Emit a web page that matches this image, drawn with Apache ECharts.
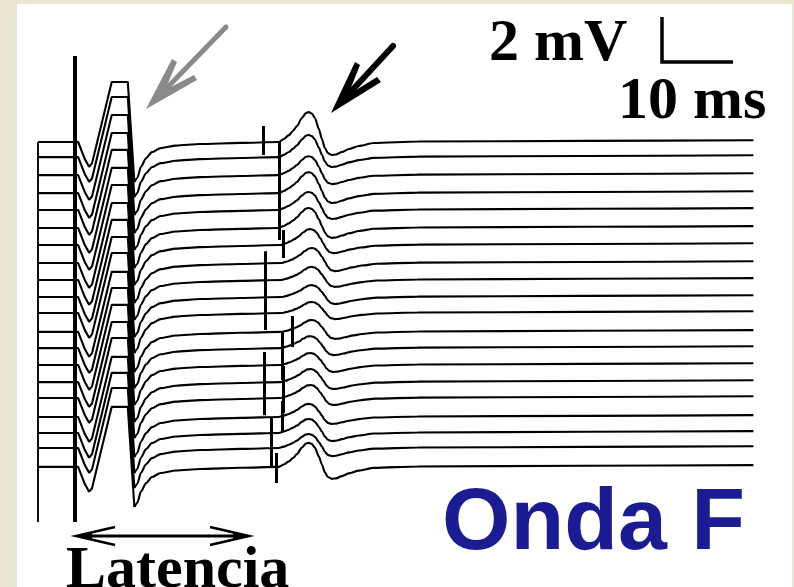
<!DOCTYPE html>
<html><head><meta charset="utf-8">
<script src="https://cdn.jsdelivr.net/npm/echarts@6/dist/echarts.min.js"></script>
<style>
html,body{margin:0;padding:0;background:#ebe4d3;width:794px;height:587px;overflow:hidden;}
#bg{position:absolute;left:17px;top:4px;width:775px;height:583px;background:#ffffff;}
#c{position:absolute;left:0;top:0;width:794px;height:587px;}
</style>
</head><body><div id="bg"></div><div id="c"></div>
<script>
// Baseline of each of the 20 stacked traces (mV offset)
const traceBase = [0, -0.67, -1.47, -2.27, -3.02, -3.82, -4.58, -5.38, -6.13, -6.89,
  -7.6, -8.44, -9.16, -9.91, -10.67, -11.38, -12.22, -12.93, -13.6, -14.44];

// M-wave (clipped) shared shape: time (ms) and amplitude (mV) relative to baseline
const mTime = [0, 5.1, 5.5, 6.4, 7.0, 7.4, 10.1, 12.3, 13.2];
const mAmp  = [0, 0, 0, -0.75, -1.1, -0.95, 2.67, 2.67, -1.78];

// Recovery after the M-wave trough
const recTime = [13.2, 13.6, 14.1, 14.8, 15.6, 16.8, 18.9, 22.2, 27.7];
const recAmp  = [-1.78, -1.6, -1.1, -0.72, -0.45, -0.27, -0.16, -0.09, -0.04];

// F-wave shape: time from onset (ms), positive lobe and negative lobe weights
const fTime = [0, 0.68, 1.37, 1.92, 2.47, 3.15, 3.7, 4.11, 4.52, 4.93, 5.48, 5.89, 6.3, 6.71, 7.26, 7.81, 8.63, 9.59, 10.96, 13.0];
const fUp   = [0, 0.1, 0.23, 0.37, 0.53, 0.8, 0.97, 1, 0.95, 0.8, 0.43, 0.1, 0, 0, 0, 0, 0, 0, 0, 0];
const fDown = [0, 0, 0, 0, 0, 0, 0, 0, 0, 0, 0, 0, -0.46, -0.85, -1, -0.96, -0.77, -0.54, -0.31, -0.08];

// Per-trace F-wave onset (ms), peak (mV) and trough depth (mV)
const fOnset = [33.0, 33.0, 33.0, 33.0, 33.0, 33.0, 33.2, 33.4, 33.4, 33.4,
  33.4, 33.4, 33.2, 33.2, 33.2, 33.2, 33.0, 33.0, 33.0, 33.0];
const fPeak = [1.33, 0.98, 0.84, 0.93, 0.8, 0.89, 0.71, 0.67, 0.58, 0.53,
  0.49, 0.53, 0.53, 0.53, 0.58, 0.58, 0.58, 0.62, 0.62, 1.07];
const fTrough = [0.58, 0.44, 0.4, 0.44, 0.4, 0.44, 0.36, 0.36, 0.31, 0.31,
  0.27, 0.31, 0.31, 0.31, 0.31, 0.31, 0.31, 0.36, 0.36, 0.53];

// Late baseline drift
const tailTime = [52, 75, 98];
const tailAmp  = [0.02, 0.05, 0.08];

// Latency markers: [trace, time ms, extent above (mV), extent below (mV)]
const ticks = [
  [0, 30.8, 0.71, 0.58],
  [1, 33.0, 0.67, 0.53], [2, 33.0, 0.67, 0.53], [3, 33.0, 0.67, 0.53], [4, 33.0, 0.67, 0.53], [5, 33.0, 0.67, 0.53],
  [6, 33.6, 0.67, 0.58],
  [7, 31.1, 0.53, 0.76], [8, 31.1, 0.53, 0.76], [9, 31.1, 0.53, 0.76], [10, 31.1, 0.53, 0.76],
  [11, 34.8, 0.71, 0.67],
  [12, 33.4, 0.71, 0.67], [13, 33.4, 0.71, 0.67], [14, 33.6, 0.71, 0.67], [15, 33.6, 0.71, 0.67], [16, 33.5, 0.71, 0.67],
  [13, 31.0, 0.58, 0.76], [14, 31.0, 0.58, 0.76], [15, 31.0, 0.58, 0.76],
  [17, 31.9, 0.67, 0.76], [18, 31.9, 0.67, 0.89],
  [19, 32.7, 0.62, 0.71]
];

// Stimulus artifact and trace start edge
const artifact = {time: 5.07, top: 3.82, bottom: -16.89};
const startEdge = {time: 0, top: 0, bottom: -16.89};

const series = [];
traceBase.forEach((b, i) => {
  series.push({
    type: 'line', data: mTime.map((t, k) => [t, b + mAmp[k]]),
    showSymbol: false, silent: true, smooth: false,
    lineStyle: {color: '#000', width: 2.1}
  });
  const rest = recTime.map((t, k) => [t, b + recAmp[k]])
    .concat(fTime.map((t, k) => [fOnset[i] + t, b + fPeak[i] * fUp[k] + fTrough[i] * fDown[k]]))
    .concat(tailTime.map((t, k) => [t, b + tailAmp[k]]));
  series.push({
    type: 'line', data: rest, showSymbol: false, silent: true,
    smooth: 0.25, smoothMonotone: 'x',
    lineStyle: {color: '#000', width: 2.1}
  });
});

series.push({
  type: 'lines', coordinateSystem: 'cartesian2d', silent: true,
  lineStyle: {color: '#000', width: 3, opacity: 1},
  data: ticks.map(tk => ({coords: [[tk[1], traceBase[tk[0]] + tk[2]], [tk[1], traceBase[tk[0]] - tk[3]]]}))
});
series.push({
  type: 'lines', coordinateSystem: 'cartesian2d', silent: true,
  lineStyle: {color: '#000', width: 4, opacity: 1},
  data: [{coords: [[artifact.time, artifact.top], [artifact.time, artifact.bottom]]}]
});
series.push({
  type: 'lines', coordinateSystem: 'cartesian2d', silent: true,
  lineStyle: {color: '#111', width: 2, opacity: 1},
  data: [{coords: [[startEdge.time, startEdge.top], [startEdge.time, startEdge.bottom]]}]
});

const serif = '"Liberation Serif", "DejaVu Serif", serif';
function txt(text, x, y, size, fam, fill, extra) {
  return {
    type: 'text', x: x, y: y, silent: true,
    style: Object.assign({
      text: text, font: 'bold ' + size + 'px ' + fam, fill: fill,
      textAlign: 'left', textVerticalAlign: 'middle', align: 'left', verticalAlign: 'middle'
    }, extra || {})
  };
}

const chart = echarts.init(document.getElementById('c'), null, {renderer: 'canvas'});
chart.setOption({
  animation: false,
  backgroundColor: 'transparent',
  grid: {left: 38, top: 52, width: 730, height: 472.5, containLabel: false},
  xAxis: {type: 'value', min: 0, max: 100, show: false},
  yAxis: {type: 'value', min: -17, max: 4, show: false},
  series: series,
  graphic: [
    // gray arrow (M wave)
    {type: 'line', silent: true, shape: {x1: 226, y1: 27, x2: 160, y2: 95}, style: {stroke: '#8a8a8a', lineWidth: 5, lineCap: 'round'}},
    {type: 'polygon', silent: true, shape: {points: [[146, 109], [172, 59], [177, 62], [165, 90], [194, 75], [197, 80]]}, style: {fill: '#8a8a8a'}},
    // black arrow (F wave)
    {type: 'line', silent: true, shape: {x1: 393, y1: 46, x2: 345, y2: 98}, style: {stroke: '#000', lineWidth: 6, lineCap: 'round'}},
    {type: 'polygon', silent: true, shape: {points: [[331, 113], [355, 62], [360, 65], [348, 95], [377, 77], [381, 82]]}, style: {fill: '#000'}},
    // scale bar
    {type: 'polyline', silent: true, shape: {points: [[662, 17], [662, 62], [733, 62]]}, style: {stroke: '#000', lineWidth: 3.5, fill: null}},
    txt('2 mV', 489, 44, 60, serif, '#000'),
    txt('10 ms', 618, 102, 60, serif, '#000'),
    // latency double arrow
    {type: 'line', silent: true, shape: {x1: 78, y1: 536, x2: 247, y2: 536}, style: {stroke: '#000', lineWidth: 3}},
    {type: 'polyline', silent: true, shape: {points: [[115, 527], [76, 536], [115, 545]]}, style: {stroke: '#000', lineWidth: 2.5, fill: null}},
    {type: 'polygon', silent: true, shape: {points: [[75, 536], [92, 532], [92, 540]]}, style: {fill: '#000'}},
    {type: 'polyline', silent: true, shape: {points: [[210, 527], [249, 536], [210, 545]]}, style: {stroke: '#000', lineWidth: 2.5, fill: null}},
    {type: 'polygon', silent: true, shape: {points: [[250, 536], [233, 532], [233, 540]]}, style: {fill: '#000'}},
    txt('Latencia', 66, 571, 60, serif, '#000'),
    txt('Onda F', 442, 525, 88, '"Liberation Sans", Arial, sans-serif', '#1b1b92',
      {shadowColor: 'rgba(0,0,0,0.35)', shadowBlur: 4, shadowOffsetX: 3, shadowOffsetY: 3})
  ]
});
</script>
</body></html>
